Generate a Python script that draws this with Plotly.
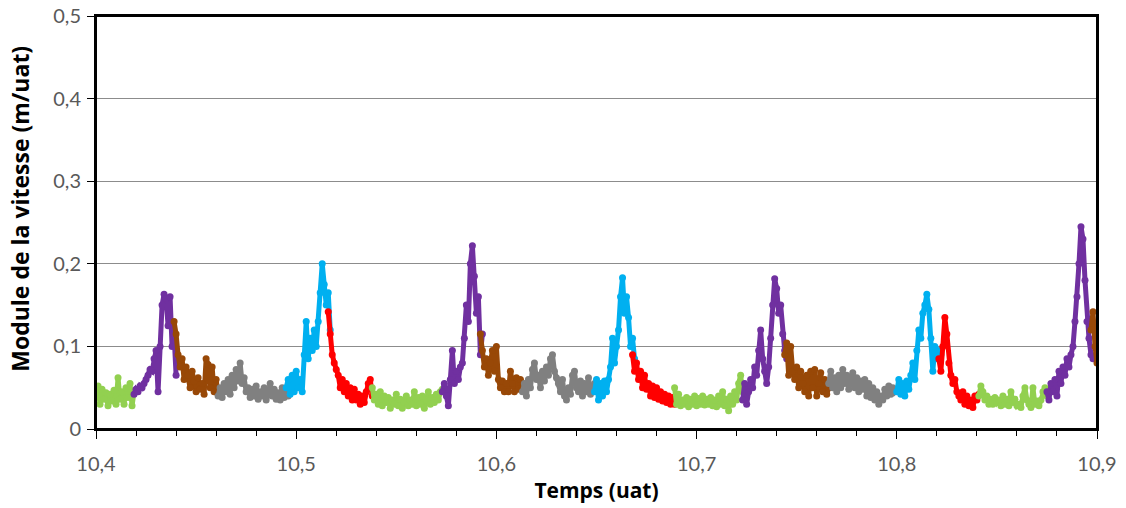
import numpy as np
import plotly.graph_objects as go

# Segment definitions: (colour name, x start, x end, y values)
green1 = [0.040,0.052,0.030,0.048,0.036,0.044,0.028,0.042,0.034,0.047,0.030,0.062,0.036,0.045,0.030,0.050,0.038,0.055,0.028,0.045]
purple1 = [0.042,0.048,0.045,0.052,0.050,0.055,0.060,0.065,0.072,0.070,0.085,0.095,0.045,0.100,0.150,0.163,0.158,0.125,0.160,0.100,0.115,0.065]
brown1 = [0.130,0.115,0.090,0.075,0.085,0.060,0.075,0.065,0.050,0.070,0.058,0.045,0.062,0.048,0.055,0.042,0.085,0.078,0.050,0.075,0.045,0.060,0.042]
gray1 = [0.040,0.050,0.038,0.055,0.045,0.060,0.042,0.065,0.050,0.072,0.058,0.080,0.055,0.062,0.045,0.050,0.038,0.048,0.040,0.052,0.036,0.045,0.040,0.050,0.035,0.042,0.055,0.040,0.048,0.036,0.044,0.035,0.050,0.038,0.045,0.040]
blue1 = [0.050,0.060,0.042,0.065,0.045,0.070,0.050,0.060,0.045,0.090,0.130,0.085,0.110,0.095,0.120,0.100,0.130,0.165,0.200,0.175,0.150,0.165,0.120]
red1 = [0.142,0.115,0.090,0.080,0.072,0.065,0.050,0.060,0.045,0.055,0.040,0.050,0.035,0.048,0.035,0.042,0.030,0.040,0.032,0.045,0.055,0.060,0.040]
green2 = [0.050,0.035,0.042,0.030,0.045,0.028,0.040,0.032,0.038,0.025,0.035,0.030,0.042,0.028,0.036,0.025,0.032,0.040,0.028,0.035,0.030,0.045,0.028,0.038,0.030,0.040,0.025,0.035,0.045,0.030,0.038,0.032,0.042,0.035,0.045,0.048]
purple2 = [0.045,0.055,0.040,0.028,0.060,0.095,0.055,0.070,0.060,0.075,0.080,0.110,0.150,0.130,0.200,0.222,0.185,0.140,0.160,0.090,0.115]
brown2 = [0.115,0.095,0.075,0.085,0.065,0.080,0.095,0.070,0.100,0.060,0.050,0.058,0.045,0.055,0.045,0.070,0.055,0.045,0.062,0.048,0.060,0.050]
gray2 = [0.045,0.055,0.040,0.060,0.050,0.072,0.080,0.060,0.065,0.050,0.070,0.058,0.075,0.065,0.085,0.090,0.070,0.062,0.055,0.045,0.060,0.040,0.035,0.050,0.042,0.065,0.070,0.050,0.045,0.058,0.040,0.055,0.045,0.062,0.042,0.050,0.055]
blue2 = [0.045,0.060,0.035,0.055,0.040,0.058,0.045,0.060,0.075,0.110,0.080,0.100,0.120,0.160,0.183,0.140,0.160,0.135,0.100,0.110,0.085]
red2 = [0.090,0.070,0.080,0.060,0.070,0.050,0.065,0.048,0.055,0.040,0.052,0.038,0.050,0.036,0.045,0.034,0.042,0.032,0.040,0.030,0.038,0.030]
green3 = [0.050,0.030,0.042,0.028,0.035,0.030,0.038,0.027,0.036,0.030,0.040,0.028,0.037,0.030,0.040,0.029,0.036,0.030,0.038,0.028,0.035,0.027,0.040,0.030,0.045,0.028,0.036,0.022,0.040,0.030,0.045,0.035,0.055,0.065,0.045]
purple3 = [0.035,0.055,0.030,0.045,0.060,0.050,0.075,0.065,0.095,0.120,0.085,0.070,0.055,0.075,0.110,0.150,0.182,0.170,0.140,0.150,0.115,0.095,0.085]
brown3 = [0.090,0.104,0.065,0.100,0.070,0.060,0.075,0.050,0.070,0.055,0.045,0.065,0.040,0.070,0.050,0.072,0.040,0.055,0.068,0.045,0.060,0.042,0.050]
gray3 = [0.055,0.070,0.050,0.062,0.045,0.065,0.050,0.072,0.055,0.065,0.048,0.060,0.068,0.050,0.062,0.045,0.058,0.048,0.060,0.040,0.055,0.038,0.050,0.035,0.045,0.030,0.040,0.035,0.048,0.040,0.052,0.042,0.050,0.045,0.048]
blue3 = [0.045,0.060,0.042,0.055,0.040,0.058,0.048,0.065,0.080,0.060,0.095,0.120,0.110,0.140,0.150,0.163,0.145,0.110,0.070,0.100,0.085,0.095,0.090]
red3 = [0.085,0.070,0.100,0.135,0.115,0.080,0.065,0.055,0.060,0.045,0.040,0.035,0.045,0.030,0.040,0.028,0.035,0.026,0.040,0.035,0.042]
green4 = [0.040,0.052,0.045,0.035,0.040,0.030,0.036,0.030,0.038,0.032,0.035,0.028,0.040,0.030,0.036,0.028,0.045,0.032,0.036,0.028,0.030,0.026,0.040,0.050,0.035,0.030,0.026,0.050,0.030,0.034,0.028,0.035,0.045,0.050,0.040]
purple4 = [0.045,0.035,0.055,0.045,0.060,0.040,0.070,0.055,0.075,0.065,0.085,0.075,0.090,0.100,0.130,0.160,0.200,0.245,0.230,0.180,0.130,0.110,0.090,0.085]
brown4 = [0.120,0.142,0.100,0.080]

segments = [
    ("green", 10.400, 10.419, green1),
    ("purple", 10.419, 10.440, purple1),
    ("brown", 10.439, 10.461, brown1),
    ("gray", 10.461, 10.496, gray1),
    ("blue", 10.495, 10.517, blue1),
    ("red", 10.516, 10.538, red1),
    ("green", 10.538, 10.573, green2),
    ("purple", 10.573, 10.593, purple2),
    ("brown", 10.592, 10.613, brown2),
    ("gray", 10.613, 10.649, gray2),
    ("blue", 10.649, 10.669, blue2),
    ("red", 10.668, 10.689, red2),
    ("green", 10.689, 10.723, green3),
    ("purple", 10.723, 10.745, purple3),
    ("brown", 10.744, 10.766, brown3),
    ("gray", 10.766, 10.800, gray3),
    ("blue", 10.800, 10.822, blue3),
    ("red", 10.821, 10.841, red3),
    ("green", 10.841, 10.875, green4),
    ("purple", 10.875, 10.898, purple4),
    ("brown", 10.897, 10.900, brown4),
]

colors = {
    "green": "#92D050",
    "purple": "#7030A0",
    "brown": "#984807",
    "gray": "#808080",
    "blue": "#00B0F0",
    "red": "#FF0000",
}

x_title = "Temps (uat)"
y_title = "Module de la vitesse (m/uat)"

fig = go.Figure()
for name, x0, x1, ys in segments:
    xs = np.linspace(x0, x1, len(ys))
    fig.add_trace(go.Scatter(
        x=xs, y=ys, mode="lines+markers",
        line=dict(color=colors[name], width=5),
        marker=dict(color=colors[name], size=7),
        showlegend=False, hoverinfo="skip", cliponaxis=True,
    ))

tickfont = dict(family="Lato, 'Open Sans', sans-serif", size=20, color="#595959")
titlefont = dict(family="'Open Sans', Lato, sans-serif", size=21, color="#000000")

fig.update_layout(
    width=1126, height=508,
    margin=dict(l=96, r=29, t=16, b=79),
    paper_bgcolor="white", plot_bgcolor="white",
    separators=", ",
    xaxis=dict(
        range=[10.4, 10.9], dtick=0.1, tick0=10.4,
        showgrid=False, zeroline=False,
        showline=True, linecolor="black", linewidth=2, mirror=True,
        ticks="outside", ticklen=8, tickcolor="black", tickwidth=1,
        minor=dict(dtick=0.02, ticks="outside", ticklen=5, tickcolor="black", showgrid=False),
        tickfont=tickfont, ticklabelstandoff=8, ticklabeloverflow="allow",
        title=dict(text="<b>" + x_title + "</b>", font=titlefont, standoff=9),
        automargin=False,
    ),
    yaxis=dict(
        range=[0, 0.5], dtick=0.1, tick0=0,
        showgrid=True, gridcolor="#8C8C8C", gridwidth=1, zeroline=False,
        showline=True, linecolor="black", linewidth=2, mirror=True,
        ticks="outside", ticklen=7, tickcolor="black", tickwidth=1,
        tickfont=tickfont, ticklabelstandoff=2, ticklabeloverflow="allow",
        automargin=False,
    ),
    annotations=[dict(
        text="<b>" + y_title + "</b>", textangle=-90,
        xref="paper", yref="paper", x=-0.076, y=0.533,
        xanchor="center", yanchor="middle", showarrow=False,
        font=dict(family="'Open Sans', Lato, sans-serif", size=23, color="#000000"),
    )],
    shapes=[dict(
        type="rect", xref="paper", yref="paper", x0=0, y0=0, x1=1, y1=1,
        line=dict(color="black", width=2), layer="above",
    )],
)

fig.write_html(
    "out.html",
    config={"displayModeBar": False, "staticPlot": True},
    post_script="document.body.style.margin='0';document.body.style.overflow='hidden';",
)
